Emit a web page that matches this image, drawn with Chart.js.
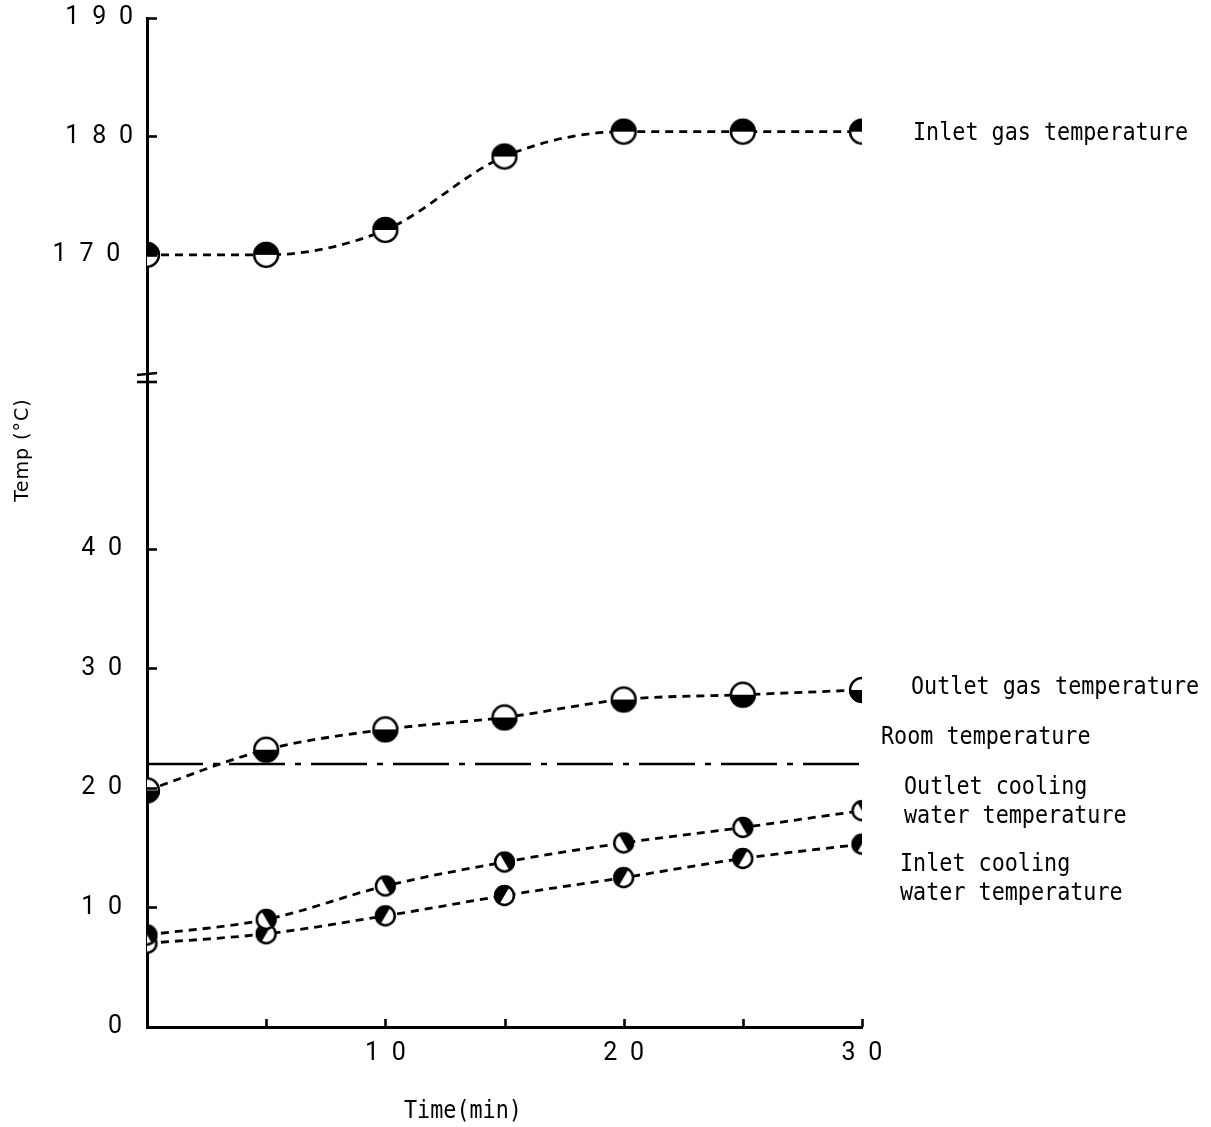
<!DOCTYPE html>
<html><head><meta charset="utf-8">
<script src="https://cdn.jsdelivr.net/npm/chart.js@4"></script>
<style>html,body{margin:0;padding:0;background:#fff}canvas{display:block}</style>
</head><body>
<canvas id="c" width="1211" height="1127"></canvas>
<script>
// ---- data ----
const times = [0, 5, 10, 15, 20, 25, 30];
const inletGas = [170.0, 170.0, 172.1, 178.3, 180.4, 180.4, 180.4];
const outletGas = [19.8, 23.2, 24.9, 25.9, 27.4, 27.8, 28.2];
const outletWater = [7.7, 9.0, 11.8, 13.8, 15.4, 16.7, 18.1];
const inletWater = [7.0, 7.8, 9.3, 11.0, 12.5, 14.1, 15.3];
const roomTemp = [22, 22];
const roomTimes = [0, 30];
const lowerTicks = [0, 10, 20, 30, 40];
const upperTicks = [170, 180, 190];
const xTickValues = [0, 5, 10, 15, 20, 25, 30];
const xTickLabels = [10, 20, 30];
const nameInletGas = ['Inlet gas temperature'];
const nameOutletGas = ['Outlet gas temperature'];
const nameRoom = ['Room temperature'];
const nameOutletWater = ['Outlet cooling', 'water temperature'];
const nameInletWater = ['Inlet cooling', 'water temperature'];
const yTitle = 'Temp (\u00B0C)';
const xTitle = 'Time(min)';

// digits separated by an en space, as in the typewritten original
const spaced = v => String(v).split('').join('\u2002');

function marker(kind, r) {
  const s = Math.ceil(2 * r + 6);
  const c = document.createElement('canvas');
  c.width = s; c.height = s;
  const g = c.getContext('2d');
  const cx = s / 2, cy = s / 2;
  g.fillStyle = '#fff';
  g.beginPath(); g.arc(cx, cy, r, 0, 2 * Math.PI); g.fill();
  const P = Math.PI;
  const ranges = {
    top: [P, 2 * P],
    bottom: [0, P],
    upRight: [-2 * P / 3, P / 3],
    upLeft: [2 * P / 3, 5 * P / 3]
  };
  const [a0, a1] = ranges[kind];
  g.fillStyle = '#000';
  g.beginPath(); g.arc(cx, cy, r, a0, a1); g.closePath(); g.fill();
  g.lineWidth = 2.5; g.strokeStyle = '#000';
  g.beginPath(); g.arc(cx, cy, r - 1.1, 0, 2 * Math.PI); g.stroke();
  return c;
}

const pts = (xs, ys) => xs.map((t, i) => ({x: t, y: ys[i]}));
const lineBase = {
  borderColor: '#000', borderWidth: 2.8, borderDash: [8, 6],
  cubicInterpolationMode: 'monotone', clip: 0, fill: false
};

const MONO = 'DejaVu Sans Mono';

function drawText(ctx, text, x, y, size, sx) {
  ctx.save();
  ctx.translate(x, y);
  ctx.scale(sx, 1);
  ctx.font = size + 'px "' + MONO + '"';
  ctx.textAlign = 'left';
  ctx.textBaseline = 'middle';
  ctx.fillStyle = '#000';
  ctx.fillText(text, 0, 0);
  ctx.restore();
}

const decor = {
  id: 'decor',
  afterDraw(chart) {
    const {ctx, chartArea: a, scales} = chart;
    ctx.save();
    ctx.strokeStyle = '#000';
    ctx.lineWidth = 2.6;
    // inward tick marks on y axes
    for (const id of ['yL', 'yU']) {
      const s = scales[id];
      for (const t of s.ticks) {
        if (t.value === 0) continue;
        const y = Math.round(s.getPixelForValue(t.value)) + 0.5;
        ctx.beginPath(); ctx.moveTo(a.left, y); ctx.lineTo(a.left + 10, y); ctx.stroke();
      }
    }
    // inward tick marks on x axis
    const sx = scales.x;
    for (const t of sx.ticks) {
      if (t.value === 0) continue;
      const x = Math.round(sx.getPixelForValue(t.value)) + 0.5;
      ctx.beginPath(); ctx.moveTo(x, a.bottom); ctx.lineTo(x, a.bottom - 8); ctx.stroke();
    }
    // axis break marks
    const yb = scales.yU.bottom;
    ctx.lineWidth = 2.6;
    ctx.beginPath(); ctx.moveTo(a.left - 10, yb - 3); ctx.lineTo(a.left + 10, yb - 5); ctx.stroke();
    ctx.beginPath(); ctx.moveTo(a.left - 10, yb + 4); ctx.lineTo(a.left + 10, yb + 4); ctx.stroke();
    ctx.restore();

    // series labels
    const R = a.right;
    const yU = scales.yU, yL = scales.yL;
    const last = arr => arr[arr.length - 1];
    const FS = 25, SX = 0.87, LH = 29;
    const put = (lines, x, y) => lines.forEach((l, i) => drawText(ctx, l, x, y + i * LH, FS, SX));
    put(nameInletGas, R + 51, yU.getPixelForValue(last(inletGas)) + 2);
    put(nameOutletGas, R + 49, yL.getPixelForValue(last(outletGas)) - 2);
    put(nameRoom, R + 19, yL.getPixelForValue(last(roomTemp)) - 27);
    put(nameOutletWater, R + 42, yL.getPixelForValue(last(outletWater)) - 23);
    put(nameInletWater, R + 38, yL.getPixelForValue(last(inletWater)) + 20);

    // axis titles
    drawText(ctx, xTitle, 404, 1111, 25, 0.87);
    ctx.save();
    ctx.translate(23, 450);
    ctx.rotate(-Math.PI / 2);
    ctx.font = '19px "DejaVu Sans"';
    ctx.letterSpacing = '1px';
    ctx.textAlign = 'center';
    ctx.textBaseline = 'middle';
    ctx.fillStyle = '#000';
    ctx.fillText(yTitle, 0, 0);
    ctx.restore();
  }
};

const tickFont = {family: 'Roboto', size: 25};
const noPad = s => { s.paddingTop = 0; s.paddingBottom = 0; };

new Chart(document.getElementById('c'), {
  type: 'line',
  data: {
    datasets: [
      Object.assign({label: nameInletGas.join(' '), data: pts(times, inletGas), yAxisID: 'yU',
        pointStyle: marker('top', 13)}, lineBase),
      Object.assign({label: nameOutletGas.join(' '), data: pts(times, outletGas), yAxisID: 'yL',
        pointStyle: marker('bottom', 13)}, lineBase),
      Object.assign({label: nameOutletWater.join(' '), data: pts(times, outletWater), yAxisID: 'yL',
        pointStyle: marker('upRight', 10.5)}, lineBase),
      Object.assign({label: nameInletWater.join(' '), data: pts(times, inletWater), yAxisID: 'yL',
        pointStyle: marker('upLeft', 10.5)}, lineBase),
      {label: nameRoom.join(' '), data: pts(roomTimes, roomTemp), yAxisID: 'yL',
        borderColor: '#000', borderWidth: 2.4, borderDash: [56, 10, 6, 10],
        pointRadius: 0, tension: 0, clip: 0, fill: false}
    ]
  },
  options: {
    responsive: false,
    devicePixelRatio: 1,
    animation: false,
    events: [],
    layout: {padding: {top: 18, right: 349, left: 0, bottom: 0}},
    plugins: {legend: {display: false}, tooltip: {enabled: false}},
    scales: {
      x: {
        type: 'linear', min: 0, max: 30,
        afterBuildTicks: s => { s.ticks = xTickValues.map(v => ({value: v})); },
        afterFit: s => { s.height = 100; s.paddingLeft = 0; s.paddingRight = 0; },
        grid: {display: false, drawTicks: false},
        border: {display: true, color: '#000', width: 3},
        ticks: {autoSkip: false, maxRotation: 0, padding: 12, color: '#000', font: tickFont,
          callback: v => xTickLabels.includes(v) ? spaced(v) : ''}
      },
      yL: {
        type: 'linear', position: 'left', stack: 'temp', stackWeight: 649,
        min: 0, max: 54.3,
        afterBuildTicks: s => { s.ticks = lowerTicks.map(v => ({value: v})); },
        afterFit: s => { s.width = 147; noPad(s); },
        grid: {display: false, drawTicks: false},
        border: {display: true, color: '#000', width: 3},
        ticks: {autoSkip: false, padding: 25, color: '#000', font: tickFont,
          callback: v => spaced(v)}
      },
      yU: {
        type: 'linear', position: 'left', stack: 'temp', stackWeight: 360,
        min: 159.6, max: 190,
        afterBuildTicks: s => { s.ticks = upperTicks.map(v => ({value: v})); },
        afterFit: s => { s.width = 147; noPad(s); },
        grid: {display: false, drawTicks: false},
        border: {display: true, color: '#000', width: 3},
        ticks: {autoSkip: false, padding: 14, color: '#000', font: tickFont,
          callback: v => v === 170 ? spaced(v) + '\u2002' : spaced(v)}
      }
    }
  },
  plugins: [decor]
});
</script>
</body></html>
